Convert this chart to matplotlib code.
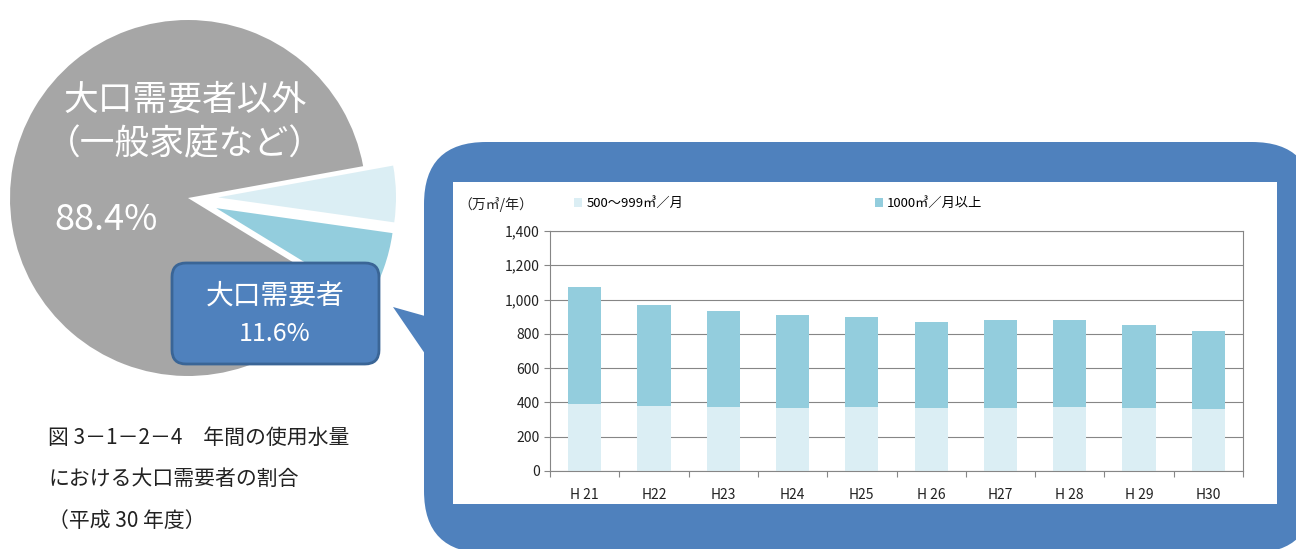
import numpy as np
import matplotlib
matplotlib.use('Agg')
import matplotlib.pyplot as plt
from matplotlib.patches import FancyBboxPatch, Rectangle, Polygon
from matplotlib.ticker import FuncFormatter

plt.rcParams['font.family'] = ['Noto Sans CJK JP', 'DejaVu Sans']

# pie: share of annual water use (H30)
pie_labels = ['500〜999㎥／月', '1000㎥／月以上', '大口需要者以外']
pie_vals = [5.1, 6.5, 88.4]

# bars: annual use of large customers (万㎥/年)
years = ['H 21', 'H22', 'H23', 'H24', 'H25', 'H 26', 'H27', 'H 28', 'H 29', 'H30']
use_500_999 = [390, 381, 373, 368, 376, 370, 368, 376, 370, 362]
use_1000_up = [685, 589, 563, 542, 521, 499, 515, 507, 482, 455]

c_gray = '#A6A6A6'
c_light = '#DBEEF4'
c_mid = '#93CDDD'
c_blue = '#4F81BD'

W, H = 1296, 549
def Y(y):
    return H - y

fig = plt.figure(figsize=(W / 100, H / 100), dpi=100)
bg = fig.add_axes([0, 0, 1, 1])

# explode is in data units here (radius is in pixels)
bg.pie(pie_vals, colors=[c_light, c_mid, c_gray], startangle=10.3, counterclock=False,
       explode=[30, 30, 0], center=(188, Y(198)), radius=178,
       wedgeprops=dict(linewidth=0))
bg.set_xlim(0, W)
bg.set_ylim(0, H)
bg.set_aspect('auto')
bg.axis('off')

bg.text(185, Y(100), '大口需要者以外', color='white', fontsize=25, ha='center', va='center')
bg.text(185, Y(145), '（一般家庭など）', color='white', fontsize=25, ha='center', va='center')
bg.text(54, Y(220), '88.4%', color='white', fontsize=26, ha='left', va='center')

# label box on the pie
box = FancyBboxPatch((172, Y(364)), 207, 101, boxstyle='round,pad=0,rounding_size=14',
                     fc=c_blue, ec='#3A6596', lw=2)
bg.add_patch(box)
bg.text(275, Y(296), '大口需要者', color='white', fontsize=20, ha='center', va='center')
bg.text(275, Y(334), '11.6%', color='white', fontsize=18, ha='center', va='center')

# speech-bubble frame
bubble = FancyBboxPatch((424, Y(553)), 890, 411, boxstyle='round,pad=0,rounding_size=62',
                        fc=c_blue, ec='none')
bg.add_patch(bubble)
bg.add_patch(Polygon([(393, Y(307)), (432, Y(318)), (432, Y(364))], closed=True, fc=c_blue, ec='none'))
bg.add_patch(Rectangle((453, Y(504)), 824, 322, fc='white', ec='none'))

# caption
fig.text(48 / W, Y(438) / H, '図 3－1－2－4　年間の使用水量', fontsize=15, va='center', color='#222222')
fig.text(48 / W, Y(479) / H, 'における大口需要者の割合', fontsize=15, va='center', color='#222222')
fig.text(48 / W, Y(521) / H, '（平成 30 年度）', fontsize=15, va='center', color='#222222')

# bar chart
ax = fig.add_axes([550 / W, Y(471) / H, 693 / W, 240 / H])
x = np.arange(len(years))
b1 = ax.bar(x, use_500_999, width=0.48, color=c_light, label=pie_labels[0])
b2 = ax.bar(x, use_1000_up, width=0.48, bottom=use_500_999, color=c_mid, label=pie_labels[1])
ax.set_xlim(-0.5, len(years) - 0.5)
ax.set_ylim(0, 1400)
ax.set_yticks(np.arange(0, 1401, 200))
ax.yaxis.set_major_formatter(FuncFormatter(lambda v, p: f'{int(v):,}'))
ax.yaxis.grid(True, color='#868686', lw=0.8)
ax.set_axisbelow(True)
for s in ax.spines.values():
    s.set_color('#868686')
    s.set_linewidth(0.8)
ax.set_xticks(np.arange(-0.5, len(years), 1))
ax.set_xticklabels([])
ax.set_xticks(x, minor=True)
ax.set_xticklabels(years, minor=True)
ax.tick_params(axis='x', which='minor', length=0, pad=12, labelsize=10, labelcolor='#222222')
ax.tick_params(axis='both', which='major', direction='out', length=4, color='#868686',
               labelsize=10, labelcolor='#222222')

ax.legend(handles=[b1, b2], loc='upper left', bbox_to_anchor=(574 / W, Y(197) / H),
          bbox_transform=fig.transFigure, ncol=2, frameon=False, fontsize=9.5,
          handlelength=0.6, handleheight=0.6, handletextpad=0.35, columnspacing=14.5,
          borderpad=0, borderaxespad=0)
fig.text(458 / W, Y(205) / H, '（万㎥/年）', fontsize=10, va='center', color='#222222')

fig.savefig('out.png', dpi=100)
